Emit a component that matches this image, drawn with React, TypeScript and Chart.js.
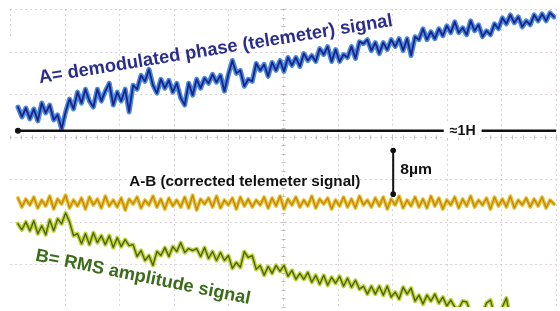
import React, { useEffect, useRef } from "react";
import { Chart, registerables } from "chart.js";

Chart.register(...registerables);

// Sample times (screen time units, 55 per division, 10 divisions across)
const sampleCount = 136;
const sampleTimes: number[] = Array.from({ length: sampleCount }, (_, i) => 8 + 4 * i);

// A = demodulated phase (telemeter) signal
const phaseA: number[] = [
  202, 192, 201, 190, 200, 188, 206, 196, 204, 189,
  194, 180, 197, 210, 200, 217, 206, 220, 208, 202,
  220, 208, 218, 226, 204, 217, 208, 220, 197, 224,
  220, 234, 228, 240, 224, 216, 230, 221, 229, 217,
  226, 211, 204, 226, 214, 230, 221, 231, 226, 235,
  227, 234, 218, 235, 249, 236, 239, 223, 230, 228,
  246, 239, 245, 233, 247, 239, 249, 238, 252, 244,
  252, 243, 256, 249, 254, 248, 261, 255, 263, 248,
  260, 248, 255, 252, 263, 251, 268, 266, 270, 259,
  267, 256, 267, 260, 270, 263, 271, 259, 271, 254,
  273, 270, 281, 270, 278, 271, 281, 274, 284, 277,
  288, 277, 282, 275, 289, 279, 285, 273, 279, 275,
  286, 281, 292, 286, 295, 287, 293, 283, 289, 285,
  295, 289, 296, 289, 297, 293,
];

// A-B = corrected telemeter signal
const correctedAB: number[] = [
  110, 101, 109, 103, 111, 100, 108, 102, 112, 99,
  109, 104, 113, 100, 108, 102, 110, 99, 111, 103,
  109, 100, 112, 102, 108, 101, 110, 98, 109, 104,
  111, 100, 108, 103, 112, 101, 109, 99, 110, 102,
  108, 101, 111, 100, 113, 98, 109, 104, 110, 101,
  112, 100, 108, 103, 110, 99, 111, 102, 109, 101,
  108, 103, 111, 100, 110, 102, 112, 99, 109, 103,
  111, 101, 108, 102, 112, 100, 109, 104, 110, 99,
  108, 102, 111, 101, 109, 100, 112, 103, 108, 101,
  110, 102, 111, 99, 109, 103, 112, 100, 108, 102,
  111, 101, 109, 100, 112, 102, 110, 99, 108, 103,
  111, 100, 109, 102, 112, 101, 108, 103, 110, 99,
  111, 102, 109, 101, 112, 100, 108, 103, 110, 101,
  109, 102, 111, 100, 108, 104,
];

// B = RMS amplitude signal
const rmsB: number[] = [
  84, 78, 86, 77, 87, 74, 82, 73, 88, 77,
  89, 84, 95, 86, 72, 74, 64, 74, 63, 75,
  65, 72, 63, 72, 60, 70, 61, 68, 62, 63,
  51, 57, 47, 52, 42, 56, 52, 60, 51, 61,
  56, 65, 55, 59, 57, 59, 51, 60, 49, 56,
  47, 55, 47, 52, 39, 45, 40, 56, 50, 52,
  38, 42, 32, 41, 34, 42, 36, 42, 31, 37,
  28, 34, 28, 35, 25, 32, 23, 32, 22, 30,
  24, 31, 21, 29, 20, 27, 18, 21, 13, 21,
  13, 21, 12, 21, 10, 15, 8, 20, 13, 19,
  6, 12, 3, 12, 6, 13, 4, 10, 1, 7,
  0, -2, 6, 5, -6, -8, -8, -7, 4, 7,
  -8, -10, 0, 9, -12,
];

// Time marker (≈1H) and 8µm scale bar
const hourMarkerTimes: number[] = [8, 550];
const hourMarkerLevel: number[] = [178, 178];
const scaleBarTimes: number[] = [386, 386];
const scaleBarLevels: number[] = [158, 114];

const FONT = '"Liberation Sans", Arial, sans-serif';

const labels = [
  { text: "A= demodulated phase (telemeter) signal", x0: 30, y0: 226, x1: 386, y1: 284, size: 18.5, color: "#2b2d8c", box: false },
  { text: "B= RMS amplitude signal", x0: 25, y0: 47, x1: 241, y1: 3, size: 18, color: "#3a6c1a", box: false },
  { text: "A-B (corrected telemeter signal)", x0: 120, y0: 122, x1: 353, y1: 122, size: 14, color: "#111111", box: false },
  { text: "8µm", x0: 393, y0: 134, x1: 425, y1: 134, size: 14.5, color: "#111111", box: false },
  { text: "≈1H", x0: 443, y0: 174, x1: 469, y1: 174, size: 14, color: "#111111", box: true },
];

const pts = (xs: number[], ys: number[]) => ys.map((y, i) => ({ x: xs[i], y }));

const graticule = {
  id: "graticule",
  beforeDatasetsDraw(chart: any) {
    const { ctx, chartArea, scales } = chart;
    const xs = scales.x;
    const ys = scales.y;
    ctx.save();
    ctx.strokeStyle = "rgba(175,155,170,0.42)";
    ctx.lineWidth = 1;
    ctx.setLineDash([2, 3]);
    for (let v = 0; v <= 550; v += 55) {
      const px = Math.round(xs.getPixelForValue(v)) + 0.5;
      ctx.beginPath();
      ctx.moveTo(px, chartArea.top);
      ctx.lineTo(px, v === 0 ? chartArea.top + 30 : chartArea.bottom);
      ctx.stroke();
    }
    for (let v = 43; v <= 301; v += 43) {
      const py = Math.round(ys.getPixelForValue(v)) + 0.5;
      ctx.beginPath();
      ctx.moveTo(chartArea.left, py);
      ctx.lineTo(chartArea.right, py);
      ctx.stroke();
    }
    ctx.setLineDash([]);
    ctx.strokeStyle = "rgba(150,135,150,0.55)";
    const cy = Math.round(ys.getPixelForValue(172)) + 0.5;
    for (let v = 0; v <= 550; v += 11) {
      const px = Math.round(xs.getPixelForValue(v)) + 0.5;
      ctx.beginPath();
      ctx.moveTo(px, cy - 2);
      ctx.lineTo(px, cy + 2);
      ctx.stroke();
    }
    const cx = Math.round(xs.getPixelForValue(275)) + 0.5;
    for (let v = 0; v <= 301; v += 8.6) {
      const py = Math.round(ys.getPixelForValue(v)) + 0.5;
      ctx.beginPath();
      ctx.moveTo(cx - 2, py);
      ctx.lineTo(cx + 2, py);
      ctx.stroke();
    }
    ctx.restore();
  },
};

const textLabels = {
  id: "textLabels",
  afterDatasetsDraw(chart: any) {
    const { ctx, scales } = chart;
    ctx.save();
    for (const l of labels) {
      const px0 = scales.x.getPixelForValue(l.x0);
      const py0 = scales.y.getPixelForValue(l.y0);
      const px1 = scales.x.getPixelForValue(l.x1);
      const py1 = scales.y.getPixelForValue(l.y1);
      const len = Math.hypot(px1 - px0, py1 - py0);
      ctx.font = `bold ${l.size}px ${FONT}`;
      const w = ctx.measureText(l.text).width;
      ctx.save();
      ctx.translate(px0, py0);
      ctx.rotate(Math.atan2(py1 - py0, px1 - px0));
      if (l.box) {
        ctx.fillStyle = "#ffffff";
        ctx.fillRect(-6, -l.size * 0.85, len + 12, l.size * 1.1);
      }
      ctx.scale(len / w, 1);
      ctx.textBaseline = "alphabetic";
      ctx.fillStyle = l.color;
      ctx.fillText(l.text, 0, 0);
      ctx.restore();
    }
    ctx.restore();
  },
};

export default function App() {
  const ref = useRef<HTMLCanvasElement>(null);
  useEffect(() => {
    document.body.style.margin = "0";
    document.body.style.background = "#ffffff";
    const chart = new Chart(ref.current as HTMLCanvasElement, {
      type: "line",
      data: {
        datasets: [
          { data: pts(sampleTimes, phaseA), borderColor: "#1c2486", borderWidth: 1.8, order: 0 },
          { data: pts(sampleTimes, phaseA), borderColor: "#4a8be0", borderWidth: 5, order: 5 },
          { data: pts(sampleTimes, correctedAB), borderColor: "#c1860e", borderWidth: 1.3, order: 0 },
          { data: pts(sampleTimes, correctedAB), borderColor: "#e9c232", borderWidth: 3.8, order: 5 },
          { data: pts(sampleTimes, rmsB), borderColor: "#4d6512", borderWidth: 1.4, order: 0 },
          { data: pts(sampleTimes, rmsB), borderColor: "#c2d43a", borderWidth: 4.2, order: 5 },
          {
            data: pts(hourMarkerTimes, hourMarkerLevel),
            borderColor: "#111111",
            borderWidth: 2.5,
            pointRadius: [3, 0],
            pointBackgroundColor: "#111111",
            pointBorderWidth: 0,
            order: 1,
          },
          {
            data: pts(scaleBarTimes, scaleBarLevels),
            borderColor: "#111111",
            borderWidth: 2,
            pointRadius: 2.8,
            pointBackgroundColor: "#111111",
            pointBorderWidth: 0,
            order: 1,
          },
        ] as any,
      },
      options: {
        animation: false,
        responsive: false,
        events: [],
        layout: { padding: { left: 10, top: 9, right: 0, bottom: 1 } },
        elements: {
          point: { radius: 0 },
          line: { tension: 0, borderJoinStyle: "round", borderCapStyle: "round" },
        },
        plugins: { legend: { display: false }, tooltip: { enabled: false }, title: { display: false } },
        scales: {
          x: { type: "linear", min: 0, max: 550, display: false },
          y: { type: "linear", min: 0, max: 301, display: false },
        },
      },
      plugins: [graticule, textLabels],
    });
    return () => chart.destroy();
  }, []);
  return (
    <div style={{ width: 560, height: 311, background: "#ffffff" }}>
      <canvas ref={ref} width={560} height={311} style={{ display: "block" }} />
    </div>
  );
}
